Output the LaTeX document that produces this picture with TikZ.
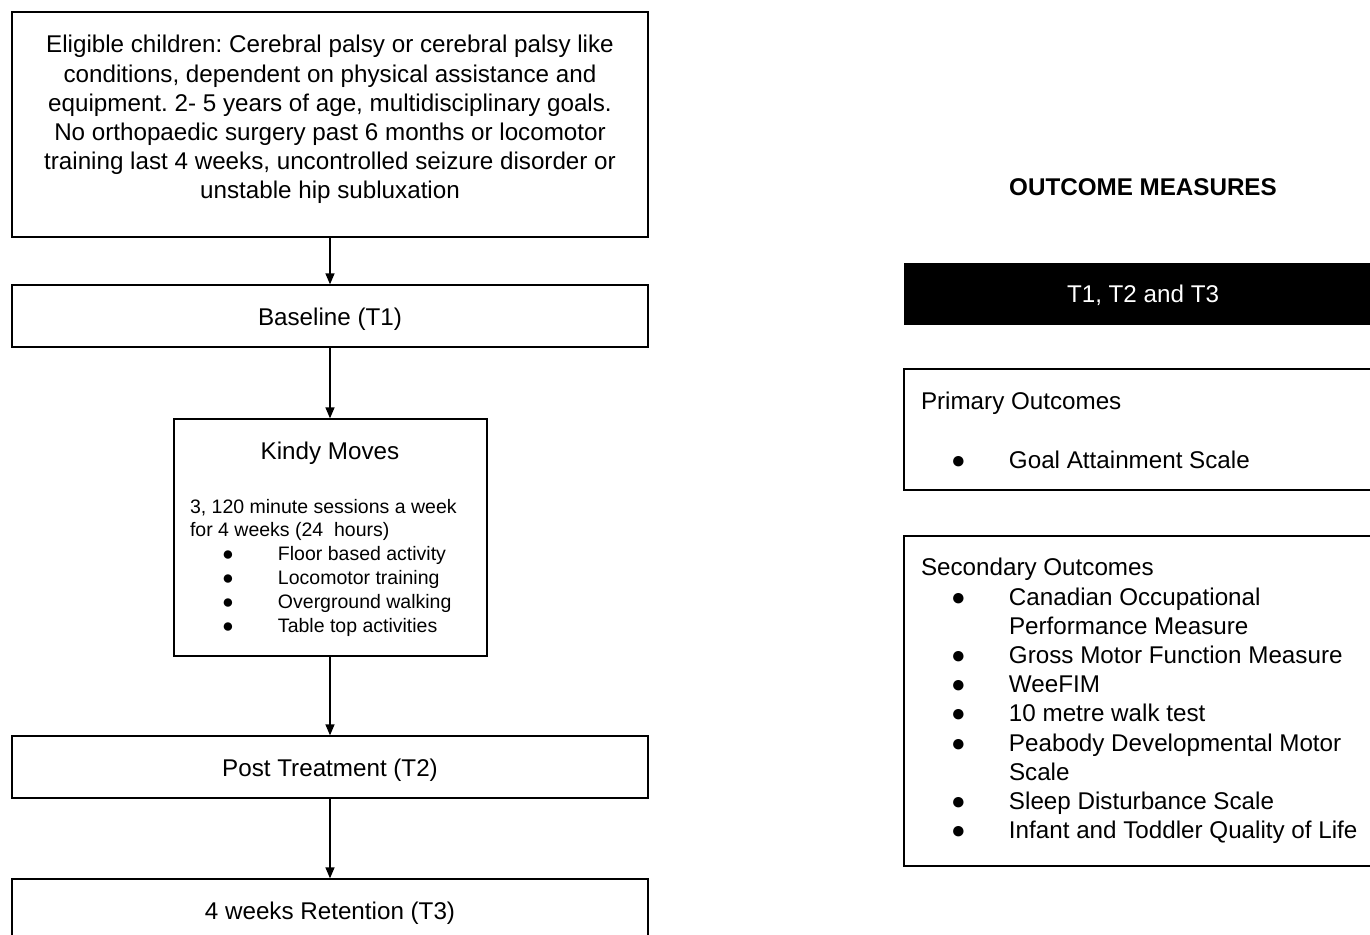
\documentclass[tikz,border=0pt]{standalone}
\usepackage{fontspec}
\setmainfont{Liberation Sans}
\usetikzlibrary{arrows.meta}
\frenchspacing
\tikzset{
  box/.style={draw=black, line width=1.3pt, rectangle, inner sep=0pt},
  big/.style={font=\fontsize{24.2}{29.2}\selectfont},
  small/.style={font=\fontsize{19.5}{23.8}\selectfont},
  arr/.style={line width=1.3pt, -{Triangle[length=11pt,width=9pt]}},
  txt/.style={inner sep=0pt, outer sep=0pt}
}
\begin{document}
\begin{tikzpicture}[x=1pt,y=-1pt]
\useasboundingbox (0,0) rectangle (1370,934);
\clip (0,0) rectangle (1370,934);
% left column
\node[box, minimum width=636pt, minimum height=225pt] (elig) at (330,124.5) {};
\node[txt, big, align=center, anchor=north] (eligtext) at (330,35.3)
 {Eligible children: Cerebral palsy or cerebral palsy like\\
  conditions, dependent on physical assistance and\\
  equipment. 2- 5 years of age, multidisciplinary goals.\\
  No orthopaedic surgery past 6 months or locomotor\\
  training last 4 weeks, uncontrolled seizure disorder or\\
  unstable hip subluxation};
\node[box, minimum width=636pt, minimum height=62pt] (base) at (330,316) {};
\node[txt, big, anchor=base] (basetext) at (330,325.5) {Baseline (T1)};
\node[box, minimum width=313pt, minimum height=237pt] (kindy) at (330.5,537.5) {};
\node[txt, big, anchor=base] (kindytitle) at (330,459.5) {Kindy Moves};
\node[txt, small, align=left, anchor=north west] (kindytext) at (190,499)
 {3, 120 minute sessions a week\\
  for 4 weeks (24\ \ hours)\\
  \hspace*{32pt}\makebox[56pt][l]{●}Floor based activity\\
  \hspace*{32pt}\makebox[56pt][l]{●}Locomotor training\\
  \hspace*{32pt}\makebox[56pt][l]{●}Overground walking\\
  \hspace*{32pt}\makebox[56pt][l]{●}Table top activities};
\node[box, minimum width=636pt, minimum height=62pt] (post) at (330,767) {};
\node[txt, big, anchor=base] (posttext) at (330,776.5) {Post Treatment (T2)};
\node[box, minimum width=636pt, minimum height=62pt] (ret) at (330,910) {};
\node[txt, big, anchor=base] (rettext) at (330,919.5) {4 weeks Retention (T3)};
\draw[arr] (elig.south) -- (base.north);
\draw[arr] (base.south) -- (base.south |- kindy.north);
\draw[arr] (base.south |- kindy.south) -- (post.north);
\draw[arr] (post.south) -- (ret.north);
% right column
\node[txt, big, anchor=base] (om) at (1143,195.5) {\bfseries OUTCOME MEASURES};
\node[rectangle, fill=black, draw=black, minimum width=478pt, minimum height=61pt] (times) at (1143,293.5) {};
\node[txt, big, text=white, anchor=base] (timestext) at (1143,302.5) {T1, T2 and T3};
\node[box, minimum width=478pt, minimum height=121pt] (prim) at (1143,429.5) {};
\node[txt, big, anchor=base west] (primtitle) at (921,409.5) {Primary Outcomes};
\node[txt, big, anchor=base west] (primitem) at (951,468.5) {\makebox[58pt][l]{●}Goal Attainment Scale};
\node[box, minimum width=478pt, minimum height=330pt] (sec) at (1143,701) {};
\node[txt, big, align=left, anchor=north west] (sectext) at (921,558.3)
 {Secondary Outcomes\\
  \hspace*{30pt}\makebox[58pt][l]{●}Canadian Occupational\\
  \hspace*{88pt}Performance Measure\\
  \hspace*{30pt}\makebox[58pt][l]{●}Gross Motor Function Measure\\
  \hspace*{30pt}\makebox[58pt][l]{●}WeeFIM\\
  \hspace*{30pt}\makebox[58pt][l]{●}10 metre walk test\\
  \hspace*{30pt}\makebox[58pt][l]{●}Peabody Developmental Motor\\
  \hspace*{88pt}Scale\\
  \hspace*{30pt}\makebox[58pt][l]{●}Sleep Disturbance Scale\\
  \hspace*{30pt}\makebox[58pt][l]{●}Infant and Toddler Quality of Life};
\end{tikzpicture}
\end{document}
